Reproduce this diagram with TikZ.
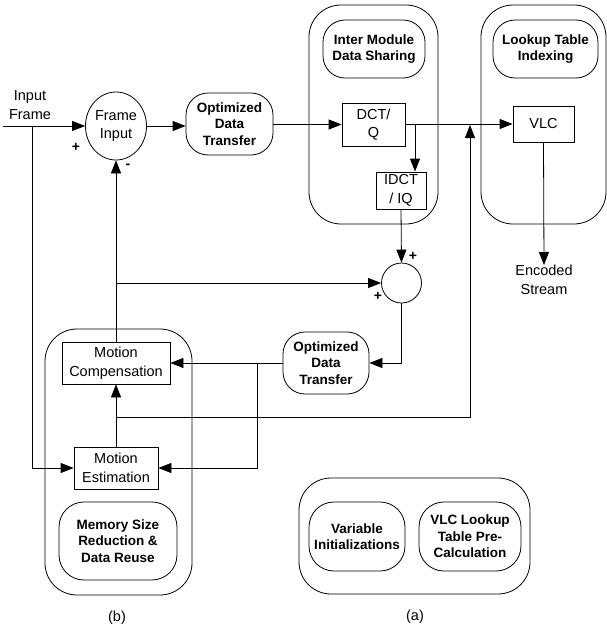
\documentclass[tikz,border=0pt]{standalone}
\usepackage{fontspec}
\setmainfont{Liberation Sans}
\usetikzlibrary{arrows.meta, positioning, shapes.geometric}

\tikzset{
  arr/.style={-{Triangle[length=13pt,width=10pt]}},
  blk/.style={draw, rectangle, inner sep=0pt, align=center, font=\fontsize{14.5}{18.5}\selectfont},
  rnd/.style={draw, rectangle, rounded corners=22pt, inner sep=0pt, align=center, font=\fontsize{13.5}{16.5}\selectfont\bfseries},
  grp/.style={rounded corners=32pt},
  sgn/.style={font=\fontsize{14}{14}\selectfont\bfseries, inner sep=0pt}
}

\begin{document}
\begin{tikzpicture}[x=1pt, y=-1pt, line width=0.8pt]
  \useasboundingbox (0,0) rectangle (607,632);
  % group frames
  \draw[grp] (309,5) rectangle (438,224);
  \draw[grp] (481,5) rectangle (606,224);
  \draw[grp] (45,329) rectangle (192,595);
  \draw[grp] (299,478) rectangle (530,594);
  % rounded labels
  \node[rnd, minimum width=102pt, minimum height=58pt] (ims) at (374,49) {Inter Module\\Data Sharing};
  \node[rnd, minimum width=105pt, minimum height=58pt] (lti) at (545.5,49) {Lookup Table\\Indexing};
  \node[rnd, minimum width=87pt, minimum height=62pt] (odt1) at (229.5,124) {Optimized\\Data\\Transfer};
  \node[rnd, minimum width=86pt, minimum height=62pt] (odt2) at (326,363) {Optimized\\Data\\Transfer};
  \node[rnd, rounded corners=25pt, minimum width=118pt, minimum height=78pt] (msr) at (118,541) {Memory Size\\Reduction \&\\Data Reuse};
  \node[rnd, rounded corners=25pt, minimum width=96pt, minimum height=69pt] (vi) at (357,536.5) {Variable\\Initializations};
  \node[rnd, rounded corners=25pt, minimum width=102pt, minimum height=69pt] (vlp) at (470,536.5) {VLC Lookup\\Table Pre-\\Calculation};
  % blocks
  \node[blk, ellipse, minimum width=61pt, minimum height=68pt] (fi) at (116,126) {Frame\\Input};
  \node[blk, circle, minimum size=40pt] (sum) at (401.5,283) {};
  \node[blk, minimum width=63pt, minimum height=43pt] (dct) at (373.5,124.5) {DCT/\\Q};
  \node[blk, minimum width=50pt, minimum height=37pt] (idct) at (401,190.5) {IDCT\\/ IQ};
  \node[blk, minimum width=61pt, minimum height=36pt] (vlc) at (543.5,124) {VLC};
  \node[blk, minimum width=108pt, minimum height=42pt] (mc) at (116,363) {Motion\\Compensation};
  \node[blk, minimum width=84pt, minimum height=42pt] (me) at (116,468) {Motion\\Estimation};
  % texts
  \node[blk, draw=none] (inp) at (30,105) {Input\\Frame};
  \node[blk, draw=none, anchor=north] (enc) at (544,265) {Encoded\\Stream};
  \node (lb) at (117,618) {\fontsize{14.5}{14.5}\selectfont(b)};
  \node (la) at (415,617) {\fontsize{14.5}{14.5}\selectfont(a)};
  \node[sgn] (p1) at (76,147) {+};
  \node[sgn] (m1) at (128,166) {-};
  \node[sgn] (p2) at (413,256) {+};
  \node[sgn] (p3) at (378,296) {+};
  % junctions
  \coordinate (in) at (3,126);
  \coordinate (j1) at (32,126);
  \coordinate (j2) at (415,125);
  \coordinate (j3) at (116,283);
  \coordinate (j4) at (257,363);
  \coordinate (j5) at (116,417);
  \coordinate (j6) at (470,125);
  % connectors
  \draw[arr] (in) -- (fi.west);
  \draw[arr] (j1) |- (me.west);
  \draw[arr] (fi.east) -- (odt1.west |- fi.east);
  \draw[arr] (odt1.east |- dct.west) -- (dct.west);
  \draw[arr] (dct.east |- vlc.west) -- (vlc.west);
  \draw[arr] (j2) -- (j2 |- idct.north);
  \draw[arr] (idct.south) -- (sum.north);
  \draw[arr] (vlc.south) -- (enc.north);
  \draw[arr] (mc.north) -- (fi.south);
  \draw[arr] (j3) -- (sum.west);
  \draw[arr] (sum.south) |- (odt2.east);
  \draw[arr] (odt2.west) -- (mc.east);
  \draw[arr] (j4) |- (me.east);
  \draw[arr] (me.north) -- (mc.south);
  \draw[arr] (j5) -| (j6);
\end{tikzpicture}
\end{document}
